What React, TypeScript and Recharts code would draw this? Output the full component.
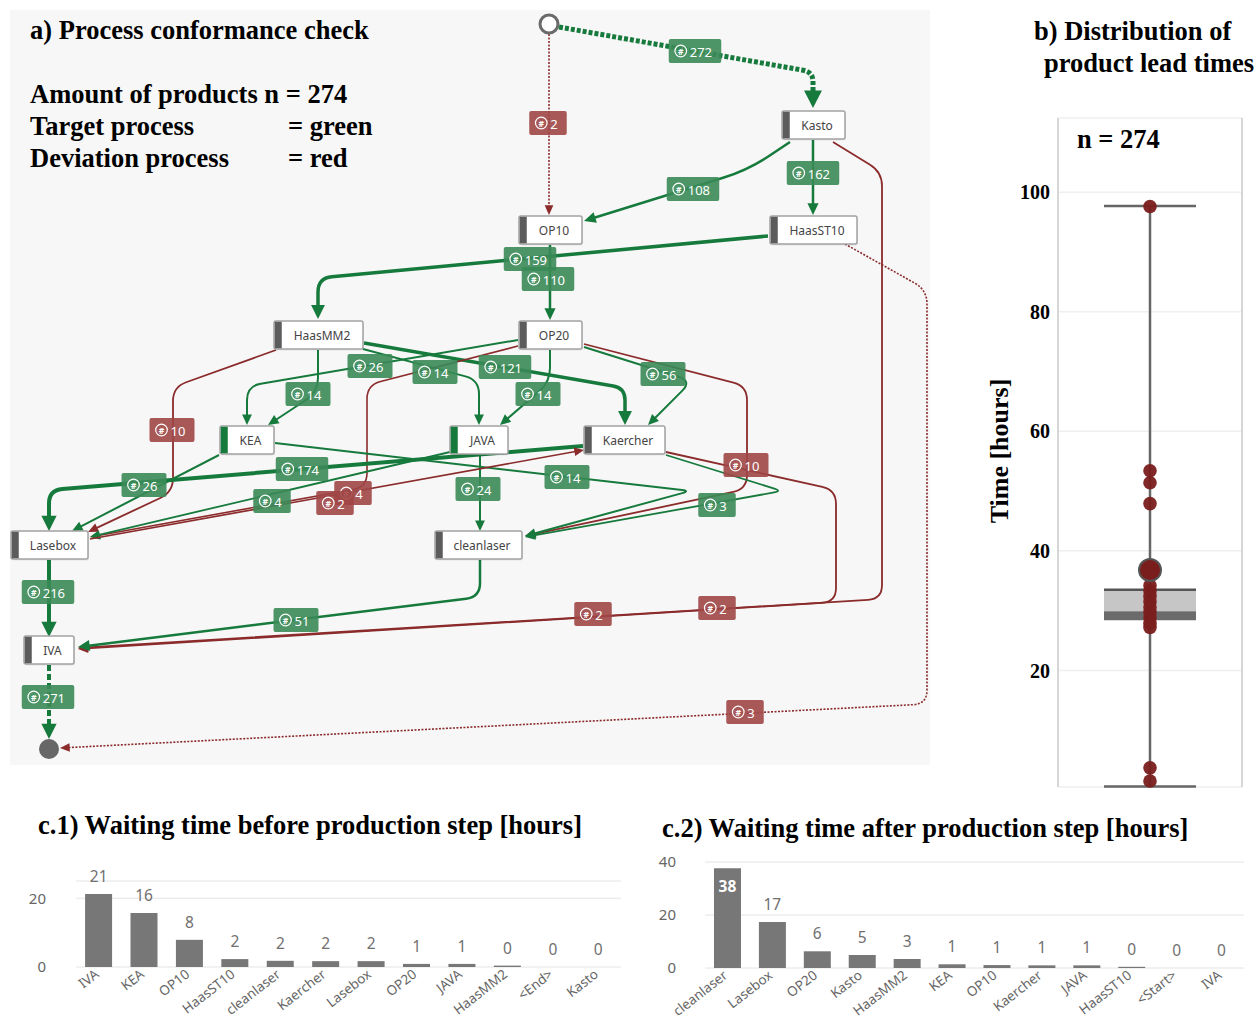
import React from 'react';
import {
  ScatterChart,
  Scatter,
  XAxis,
  YAxis,
  ComposedChart,
  Bar,
  Line,
  CartesianGrid,
  LabelList,
  ReferenceArea,
  ReferenceLine,
} from 'recharts';

const SERIF = '"Liberation Serif", "Times New Roman", serif';
const SANS = '"Noto Sans", "Open Sans", sans-serif';

const GREEN_LINE = '#177a3d';
const RED_LINE = '#8b2b2b';
const GREEN_TAG = '#3a8a56';
const RED_TAG = '#a04646';

// ---------------- panel a: process graph (layout in page pixels) ----------------
const processSteps = [
  { name: 'Kasto', x: 813.5, y: 125, w: 63, target: false },
  { name: 'OP10', x: 550.5, y: 230, w: 63, target: false },
  { name: 'HaasST10', x: 813.5, y: 230, w: 87, target: false },
  { name: 'HaasMM2', x: 318.5, y: 335, w: 89, target: false },
  { name: 'OP20', x: 550.5, y: 335, w: 63, target: false },
  { name: 'KEA', x: 247, y: 440, w: 54, target: true },
  { name: 'JAVA', x: 479, y: 440, w: 58, target: true },
  { name: 'Kaercher', x: 624.5, y: 440, w: 81, target: false },
  { name: 'Lasebox', x: 49.5, y: 545, w: 77, target: false },
  { name: 'cleanlaser', x: 478.5, y: 545, w: 87, target: false },
  { name: 'IVA', x: 49, y: 650, w: 50, target: false },
];

const processTerminals = [
  { name: '<Start>', x: 549, y: 24, filled: false },
  { name: '<End>', x: 49, y: 749, filled: true },
];

const processEdges = [
  { from: '<Start>', to: 'Kasto', count: 272, conform: true, width: 5, dash: '4 2', label: [695, 51], path: [[559, 27], [813, 72], [813, 108]] },
  { from: '<Start>', to: 'OP10', count: 2, conform: false, width: 1.6, dash: '2 1.5', label: [548, 123], path: [[549, 34], [549, 215]] },
  { from: 'Kasto', to: 'OP10', count: 108, conform: true, width: 2.5, label: [693, 189], path: [[790, 142], [748, 170], [584, 221]], radius: 30 },
  { from: 'Kasto', to: 'HaasST10', count: 162, conform: true, width: 2.5, label: [813, 173], path: [[813, 140], [813, 215]] },
  { from: 'HaasST10', to: 'HaasMM2', count: 159, conform: true, width: 3.5, label: [530, 259], path: [[768, 236], [318, 278], [318, 319]] },
  { from: 'OP10', to: 'OP20', count: 110, conform: true, width: 2.5, label: [548, 279], path: [[550, 245], [550, 320]] },
  { from: 'Kasto', to: 'IVA', count: 2, conform: false, width: 1.8, label: [717, 608], path: [[833, 142], [882, 172], [882, 599], [78, 648]] },
  { from: 'HaasST10', to: '<End>', count: 3, conform: false, width: 1.6, dash: '2 1.5', label: [745, 712], path: [[845, 244], [927, 290], [927, 704], [60, 748]] },
  { from: 'HaasMM2', to: 'KEA', count: 14, conform: true, width: 2, label: [308, 394], path: [[318, 350], [318, 392], [268, 425]] },
  { from: 'OP20', to: 'KEA', count: 26, conform: true, width: 2, label: [370, 366], path: [[518, 340], [247, 386], [247, 425]] },
  { from: 'HaasMM2', to: 'JAVA', count: 14, conform: true, width: 2, label: [435, 372], path: [[363, 349], [479, 380], [479, 425]] },
  { from: 'HaasMM2', to: 'Kaercher', count: 121, conform: true, width: 3.5, label: [505, 367], path: [[364, 343], [625, 388], [625, 425]] },
  { from: 'OP20', to: 'JAVA', count: 14, conform: true, width: 2, label: [538, 394], path: [[550, 350], [550, 382], [500, 425]] },
  { from: 'OP20', to: 'Kaercher', count: 56, conform: true, width: 2, label: [663, 374], path: [[584, 347], [692, 381], [648, 425]] },
  { from: 'HaasMM2', to: 'Lasebox', count: 10, conform: false, width: 1.8, label: [172, 430], path: [[276, 350], [173, 387], [173, 492], [88, 532]] },
  { from: 'OP20', to: 'Lasebox', count: 4, conform: false, width: 1.6, label: [353, 493], path: [[518, 346], [367, 385], [367, 487], [90, 537]] },
  { from: 'OP20', to: 'cleanlaser', count: 10, conform: false, width: 1.8, label: [746, 465], path: [[584, 344], [747, 386], [747, 489], [525, 536]] },
  { from: 'KEA', to: 'Lasebox', count: 26, conform: true, width: 2, label: [144, 485], path: [[219, 455], [72, 531]] },
  { from: 'Kaercher', to: 'Lasebox', count: 174, conform: true, width: 4, label: [302, 469], path: [[583, 446], [49, 490], [49, 531]] },
  { from: 'JAVA', to: 'Lasebox', count: 4, conform: true, width: 1.8, label: [272, 501], path: [[450, 452], [90, 537]] },
  { from: 'JAVA', to: 'cleanlaser', count: 24, conform: true, width: 2, label: [478, 489], path: [[480, 455], [480, 531]] },
  { from: 'KEA', to: 'cleanlaser', count: 14, conform: true, width: 2, label: [567, 477], path: [[275, 443], [690, 491], [525, 536]], radius: 8 },
  { from: 'Kaercher', to: 'cleanlaser', count: 3, conform: true, width: 1.8, label: [717, 505], path: [[666, 455], [782, 491], [525, 537]], radius: 8 },
  { from: 'Lasebox', to: 'Kaercher', count: 2, conform: false, width: 1.6, label: [335, 503], path: [[90, 539], [584, 450]] },
  { from: 'Kaercher', to: 'IVA', count: 2, conform: false, width: 1.8, label: [593, 614], path: [[666, 452], [836, 490], [836, 602], [78, 649]] },
  { from: 'Lasebox', to: 'IVA', count: 216, conform: true, width: 4, label: [48, 592], path: [[49, 560], [49, 637]] },
  { from: 'cleanlaser', to: 'IVA', count: 51, conform: true, width: 2.5, label: [296, 620], path: [[480, 560], [480, 597], [78, 647]] },
  { from: 'IVA', to: '<End>', count: 271, conform: true, width: 4, dash: '6 3', label: [48, 697], path: [[49, 665], [49, 739]] },
];

// ---------------- panel b: lead time distribution ----------------
const leadTimeWhisker = { min: 0.6, max: 97.7 };
const leadTimeBox = { q1: 28.4, median: 29.9, q3: 33.5 };
const leadTimeMean = 36.8;
const leadTimePoints = [97.6, 53.4, 51.4, 47.9, 34.2, 33.3, 32.4, 31.5, 30.6, 29.7, 28.8, 27.9, 27.2, 3.7, 1.5];
const leadTimeTicks = [20, 40, 60, 80, 100];
const leadTimeDomain = [0.5, 112.4];

// ---------------- panel c: waiting times ----------------
const waitBeforeSteps = ['IVA', 'KEA', 'OP10', 'HaasST10', 'cleanlaser', 'Kaercher', 'Lasebox', 'OP20', 'JAVA', 'HaasMM2', '<End>', 'Kasto'];
const waitBeforeHours = [21.2, 15.7, 7.9, 2.3, 1.8, 1.7, 1.7, 0.9, 0.9, 0.4, 0, 0];
const waitBeforeTicks = [0, 20];

const waitAfterSteps = ['cleanlaser', 'Lasebox', 'OP20', 'Kasto', 'HaasMM2', 'KEA', 'OP10', 'Kaercher', 'JAVA', 'HaasST10', '<Start>', 'IVA'];
const waitAfterHours = [37.6, 17.4, 6.3, 4.9, 3.4, 1.4, 1.1, 1.0, 1.0, 0.45, 0, 0];
const waitAfterTicks = [0, 20, 40];

const waitBeforeData = waitBeforeSteps.map((name, i) => ({ name, hours: waitBeforeHours[i] }));
const waitAfterData = waitAfterSteps.map((name, i) => ({ name, hours: waitAfterHours[i] }));

// ---------------- helpers ----------------
function roundedPath(pts: { x: number; y: number }[], r: number) {
  let d = `M${pts[0].x},${pts[0].y}`;
  for (let i = 1; i < pts.length - 1; i++) {
    const p0 = pts[i - 1];
    const p1 = pts[i];
    const p2 = pts[i + 1];
    const d1 = Math.hypot(p1.x - p0.x, p1.y - p0.y) || 1;
    const d2 = Math.hypot(p2.x - p1.x, p2.y - p1.y) || 1;
    const rr = Math.min(r, d1 / 2, d2 / 2);
    const ax = p1.x - ((p1.x - p0.x) / d1) * rr;
    const ay = p1.y - ((p1.y - p0.y) / d1) * rr;
    const bx = p1.x + ((p2.x - p1.x) / d2) * rr;
    const by = p1.y + ((p2.y - p1.y) / d2) * rr;
    d += ` L${ax},${ay} Q${p1.x},${p1.y} ${bx},${by}`;
  }
  const last = pts[pts.length - 1];
  d += ` L${last.x},${last.y}`;
  return d;
}

const EmptyShape = () => <g />;

const edgeLine = (e: any) => (props: any) => {
  const pts = (props.points || []).map((p: any) => ({ x: p.x, y: p.y }));
  if (pts.length < 2) return <g />;
  const color = e.conform ? GREEN_LINE : RED_LINE;
  const w = e.width;
  const al = 6 + 2.3 * w;
  const ah = 2.2 + 1.35 * w;
  const n = pts.length;
  const tip = pts[n - 1];
  const prev = pts[n - 2];
  const L = Math.hypot(tip.x - prev.x, tip.y - prev.y) || 1;
  const ux = (tip.x - prev.x) / L;
  const uy = (tip.y - prev.y) / L;
  const base = { x: tip.x - ux * al, y: tip.y - uy * al };
  const lineEnd = { x: tip.x - ux * (al - 1), y: tip.y - uy * (al - 1) };
  const d = roundedPath([...pts.slice(0, n - 1), lineEnd], e.radius ?? 14);
  const lft = `${base.x - uy * ah},${base.y + ux * ah}`;
  const rgt = `${base.x + uy * ah},${base.y - ux * ah}`;
  return (
    <g>
      <path d={d} fill="none" stroke={color} strokeWidth={w} strokeDasharray={e.dash} strokeLinejoin="round" />
      <polygon points={`${tip.x},${tip.y} ${lft} ${rgt}`} fill={color} />
    </g>
  );
};

const StepShape = (p: any) => {
  const { cx, cy, payload } = p;
  const w = payload.w;
  const h = 28;
  const left = cx - w / 2;
  const top = cy - h / 2;
  const accent = payload.target ? GREEN_LINE : '#5c5c5c';
  return (
    <g>
      <rect x={left + 1} y={top + 1.5} width={w} height={h} rx={2} fill="#000" fillOpacity={0.08} />
      <rect x={left} y={top} width={w} height={h} rx={2} fill="#fff" stroke="#a3a3a3" strokeWidth={1.5} />
      <rect x={left + 0.75} y={top + 0.75} width={7} height={h - 1.5} fill={accent} />
      <text x={left + 7 + (w - 7) / 2} y={cy} textAnchor="middle" dominantBaseline="central" fontSize={12} fill="#444" fontFamily={SANS}>
        {payload.name}
      </text>
    </g>
  );
};

const TerminalShape = (p: any) => {
  const { cx, cy, payload } = p;
  return payload.filled ? (
    <circle cx={cx} cy={cy} r={10} fill="#676767" />
  ) : (
    <circle cx={cx} cy={cy} r={9} fill="#fff" stroke="#6a6a6a" strokeWidth={3} />
  );
};

const TagShape = (p: any) => {
  const { cx, cy, payload } = p;
  const txt = String(payload.count);
  const w = 30 + 7.5 * txt.length;
  const h = 24;
  const left = cx - w / 2;
  const fill = payload.conform ? GREEN_TAG : RED_TAG;
  return (
    <g>
      <rect x={left} y={cy - h / 2} width={w} height={h} rx={2} fill={fill} fillOpacity={0.9} />
      <circle cx={left + 12} cy={cy} r={5.8} fill="none" stroke="#fff" strokeWidth={1.2} />
      <text x={left + 12} y={cy + 0.5} textAnchor="middle" dominantBaseline="central" fontSize={8.5} fontWeight={700} fill="#fff" fontFamily={SANS}>
        #
      </text>
      <text x={left + 21} y={cy + 0.5} dominantBaseline="central" fontSize={13} fill="#fff" fontFamily={SANS}>
        {txt}
      </text>
    </g>
  );
};

const RedDot = (p: any) => <circle cx={p.cx} cy={p.cy} r={6.8} fill="#7a1d1d" fillOpacity={0.95} />;
const MeanDot = (p: any) => <circle cx={p.cx} cy={p.cy} r={11} fill="#7a1d1d" stroke="#555" strokeWidth={2} />;

const RotatedTick = (props: any) => {
  const { x, y, payload } = props;
  const ax = x + 1;
  const ay = y + 1;
  return (
    <text x={ax} y={ay} textAnchor="end" fontSize={13.5} fill="#666" fontFamily={SANS} transform={`rotate(-38, ${ax}, ${ay})`}>
      {payload.value}
    </text>
  );
};

const barLabel = (props: any) => {
  const vb = props.viewBox || {};
  const x = vb.x ?? props.x;
  const y = vb.y ?? props.y;
  const width = vb.width ?? props.width ?? 0;
  const value = Number(props.value);
  const inside = value > 30;
  return (
    <text
      x={x + width / 2}
      y={inside ? y + 18 : y - 18}
      textAnchor="middle"
      dominantBaseline="central"
      fontSize={15.5}
      fill={inside ? '#fff' : '#707070'}
      fontWeight={inside ? 700 : 400}
      fontFamily={SANS}
    >
      {Math.round(value)}
    </text>
  );
};

const TITLE = 26.5;
const titleStyle = (left: number, top: number, size = TITLE): React.CSSProperties => ({
  position: 'absolute',
  left,
  top,
  fontFamily: SERIF,
  fontWeight: 700,
  fontSize: size,
  lineHeight: `${size}px`,
  color: '#000',
  whiteSpace: 'nowrap',
});

const WaitChart = ({ data, ticks, domain, width, height, yWidth, tickMargin, margin }: any) => (
  <ComposedChart width={width} height={height} data={data} margin={margin} barCategoryGap="20%">
    <CartesianGrid vertical={false} stroke="#e4e4e4" />
    <XAxis dataKey="name" interval={0} tick={<RotatedTick />} axisLine={false} tickLine={false} height={55} />
    <YAxis
      domain={domain}
      ticks={ticks}
      axisLine={false}
      tickLine={false}
      width={yWidth}
      tickMargin={tickMargin}
      tick={{ fontSize: 15, fill: '#666', fontFamily: SANS }}
    />
    <Bar dataKey="hours" fill="#777777" isAnimationActive={false} />
    <Line dataKey="hours" stroke="none" dot={false} activeDot={false} isAnimationActive={false}>
      <LabelList dataKey="hours" content={barLabel} />
    </Line>
  </ComposedChart>
);

export default function App() {
  return (
    <div style={{ position: 'absolute', left: 0, top: 0, width: 1258, height: 1021, background: '#fff', overflow: 'hidden' }}>
      {/* panel a background */}
      <div style={{ position: 'absolute', left: 10, top: 10, width: 920, height: 755, background: '#f7f7f7' }} />
      <div style={titleStyle(30, 17)}>a) Process conformance check</div>
      <div style={titleStyle(30, 81)}>Amount of products n = 274</div>
      <div style={titleStyle(30, 113)}>Target process</div>
      <div style={titleStyle(288, 113)}>= green</div>
      <div style={titleStyle(30, 145)}>Deviation process</div>
      <div style={titleStyle(288, 145)}>= red</div>

      <div style={{ position: 'absolute', left: 0, top: 0 }}>
        <ScatterChart width={940} height={780} margin={{ top: 0, right: 0, bottom: 0, left: 0 }}>
          <XAxis type="number" dataKey="x" domain={[0, 940]} hide />
          <YAxis type="number" dataKey="y" domain={[0, 780]} reversed hide />
          {processEdges.map((e, i) => (
            <Scatter
              key={`edge-${i}`}
              data={e.path.map(([x, y]) => ({ x, y }))}
              shape={EmptyShape}
              line={edgeLine(e)}
              isAnimationActive={false}
            />
          ))}
          <Scatter data={processTerminals} shape={TerminalShape} isAnimationActive={false} />
          <Scatter data={processSteps} shape={StepShape} isAnimationActive={false} />
          <Scatter
            data={processEdges.map((e) => ({ x: e.label[0], y: e.label[1], count: e.count, conform: e.conform }))}
            shape={TagShape}
            isAnimationActive={false}
          />
        </ScatterChart>
      </div>

      {/* panel b */}
      <div style={titleStyle(1034, 18)}>b) Distribution of</div>
      <div style={titleStyle(1044, 50)}>product lead times</div>
      <div
        style={{
          position: 'absolute',
          left: 1000,
          top: 451,
          transform: 'translate(-50%, -50%) rotate(-90deg)',
          fontFamily: SERIF,
          fontWeight: 700,
          fontSize: 26,
          lineHeight: '26px',
          whiteSpace: 'nowrap',
        }}
      >
        Time [hours]
      </div>
      <div style={{ position: 'absolute', left: 960, top: 108 }}>
        <ScatterChart width={298} height={682} margin={{ top: 10, right: 16, bottom: 3, left: 0 }}>
          <CartesianGrid vertical={false} stroke="#efefef" strokeWidth={1.5} />
          <XAxis type="number" dataKey="x" domain={[0, 1]} hide />
          <YAxis
            type="number"
            dataKey="y"
            domain={leadTimeDomain}
            ticks={leadTimeTicks}
            axisLine={false}
            tickLine={false}
            width={98}
            tick={{ fontFamily: SERIF, fontWeight: 700, fontSize: 20, fill: '#000' }}
          />
          <ReferenceLine segment={[{ x: 0, y: leadTimeDomain[0] }, { x: 0, y: leadTimeDomain[1] }]} stroke="#d6d6d6" strokeWidth={2} />
          <ReferenceLine segment={[{ x: 1, y: leadTimeDomain[0] }, { x: 1, y: leadTimeDomain[1] }]} stroke="#d6d6d6" strokeWidth={2} />
          <ReferenceArea x1={0.25} x2={0.75} y1={leadTimeBox.median} y2={leadTimeBox.q3} fill="#c6c6c6" fillOpacity={1} stroke="none" />
          <ReferenceArea x1={0.25} x2={0.75} y1={leadTimeBox.q1} y2={leadTimeBox.median} fill="#6b6b6b" fillOpacity={1} stroke="none" />
          <ReferenceLine segment={[{ x: 0.25, y: leadTimeBox.q3 }, { x: 0.75, y: leadTimeBox.q3 }]} stroke="#555" strokeWidth={2.5} />
          <ReferenceLine segment={[{ x: 0.5, y: leadTimeWhisker.min }, { x: 0.5, y: leadTimeWhisker.max }]} stroke="#666" strokeWidth={2.5} />
          <ReferenceLine segment={[{ x: 0.25, y: leadTimeWhisker.max }, { x: 0.75, y: leadTimeWhisker.max }]} stroke="#666" strokeWidth={2.5} />
          <ReferenceLine segment={[{ x: 0.25, y: leadTimeWhisker.min }, { x: 0.75, y: leadTimeWhisker.min }]} stroke="#666" strokeWidth={2.5} />
          <Scatter data={leadTimePoints.map((y) => ({ x: 0.5, y }))} shape={RedDot} isAnimationActive={false} />
          <Scatter data={[{ x: 0.5, y: leadTimeMean }]} shape={MeanDot} isAnimationActive={false} />
        </ScatterChart>
      </div>
      <div style={titleStyle(1077, 126)}>n = 274</div>

      {/* panel c.1 */}
      <div style={titleStyle(38, 812)}>c.1) Waiting time before production step [hours]</div>
      <div style={{ position: 'absolute', left: 0, top: 861 }}>
        <WaitChart
          data={waitBeforeData}
          ticks={waitBeforeTicks}
          domain={[0, 25]}
          width={640}
          height={161}
          yWidth={76}
          tickMargin={24}
          margin={{ top: 20, right: 19, bottom: 0, left: 0 }}
        />
      </div>

      {/* panel c.2 */}
      <div style={titleStyle(662, 815)}>c.2) Waiting time after production step [hours]</div>
      <div style={{ position: 'absolute', left: 640, top: 852 }}>
        <WaitChart
          data={waitAfterData}
          ticks={waitAfterTicks}
          domain={[0, 40]}
          width={618}
          height={171}
          yWidth={65}
          tickMargin={23}
          margin={{ top: 10, right: 14, bottom: 0, left: 0 }}
        />
      </div>
    </div>
  );
}
